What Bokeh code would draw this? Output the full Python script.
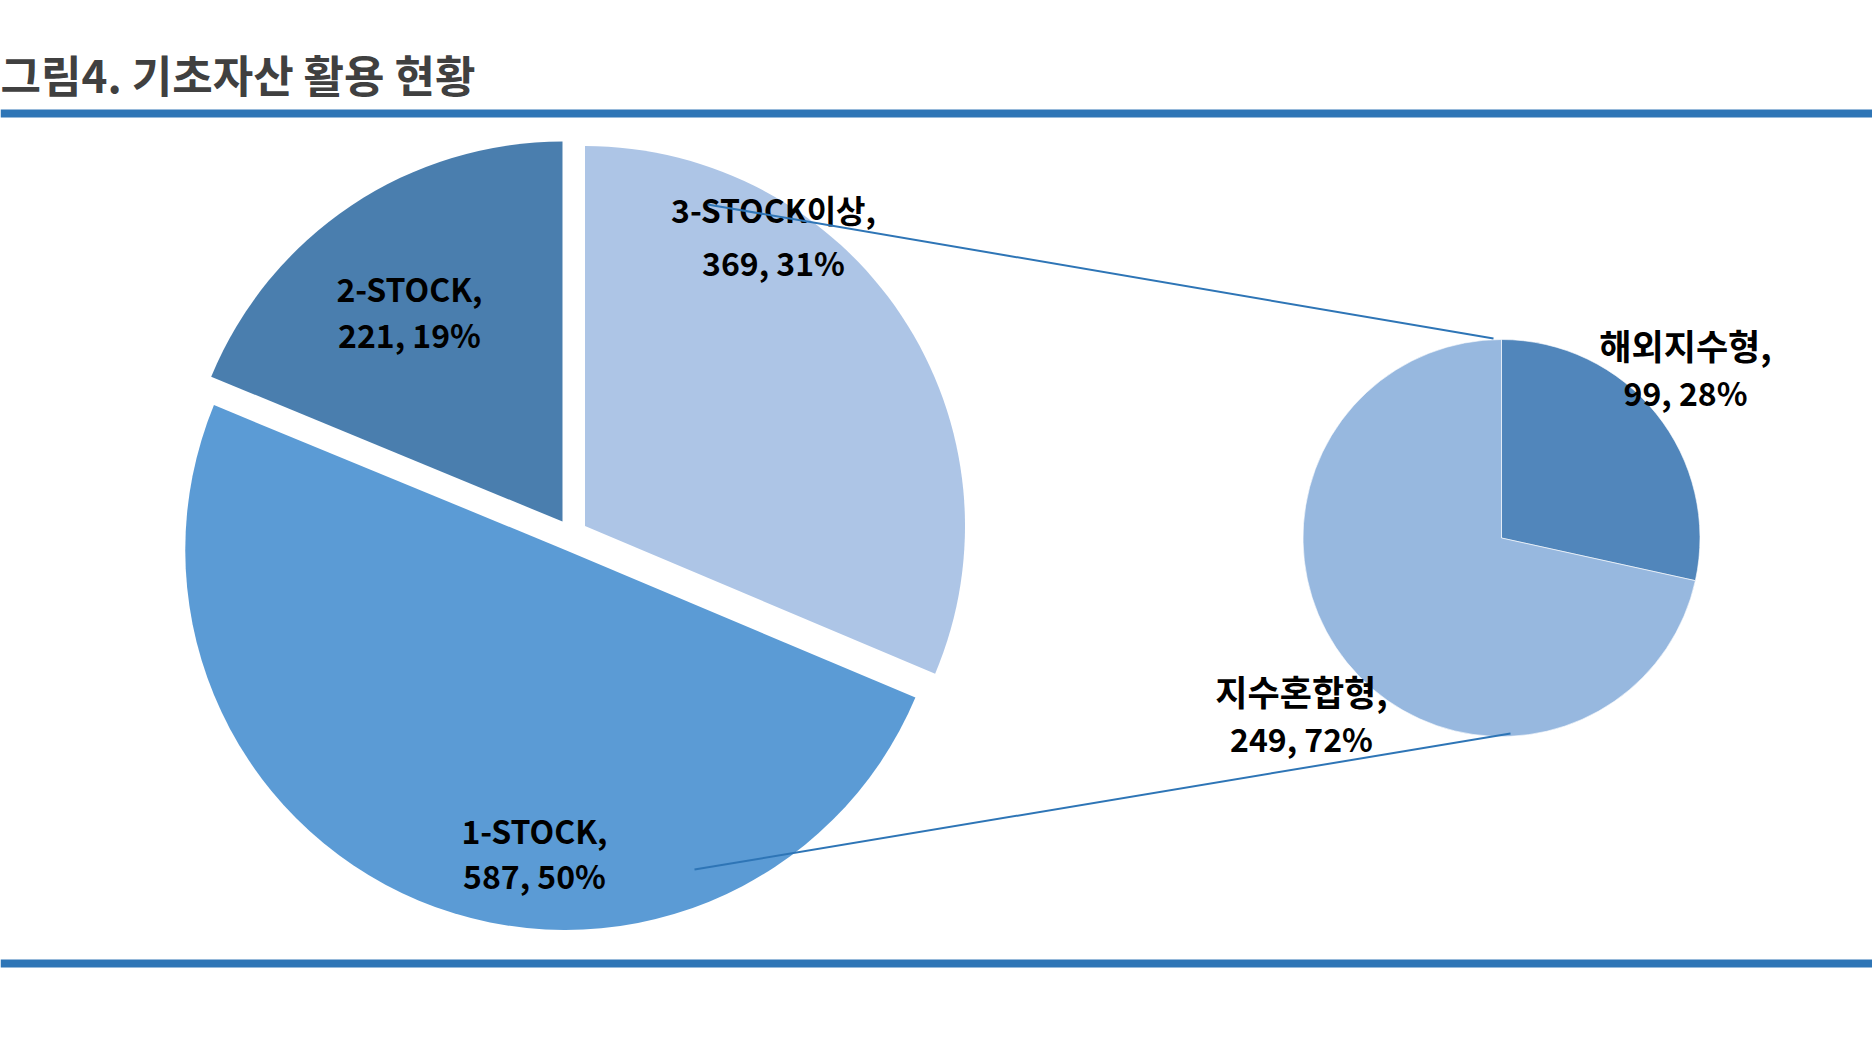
import math
from bokeh.plotting import figure
from bokeh.models import Range1d
from bokeh.core.properties import value
from bokeh.embed import file_html
from bokeh.resources import INLINE

# ---------------- data ----------------
title_text = "그림4. 기초자산 활용 현황"
main_categories = ["1-STOCK", "2-STOCK", "3-STOCK이상"]
main_values = [587, 221, 369]
sub_categories = ["해외지수형", "지수혼합형"]
sub_values = [99, 249]

# ---------------- layout / style ----------------
W, H = 1872, 1058
FONT = "Noto Sans CJK KR"
LINE_BLUE = "#2E75B6"
BASE_SHIFT = 0.45   # em; corrects the renderer's baseline placement

def sy(y):
    return H - y

main_order = ["3-STOCK이상", "1-STOCK", "2-STOCK"]   # clockwise from 12 o'clock
main_colors = {"1-STOCK": "#5B9BD5", "2-STOCK": "#4A7EAE", "3-STOCK이상": "#ADC5E6"}
main_center = (571, 534.5)
main_radius = 380
main_explode = 16.2
main_label_pos = {"3-STOCK이상": (773, 223, 276),
                  "2-STOCK": (409, 302, 348),
                  "1-STOCK": (534, 844, 889)}

sub_order = ["해외지수형", "지수혼합형"]
sub_colors = {"해외지수형": "#5186BB", "지수혼합형": "#97B8DF"}
sub_center = (1501, 537.5)
sub_radius = 198.5
sub_label_pos = {"해외지수형": (1685, 360, 406),
                 "지수혼합형": (1301, 706, 752)}

connectors = [((707, 204), (1493, 338)), ((694, 869), (1510, 733))]

p = figure(width=W, height=H, x_range=Range1d(0, W), y_range=Range1d(0, H),
           output_backend="svg", toolbar_location=None, min_border=0,
           x_axis_type=None, y_axis_type=None, outline_line_color=None,
           background_fill_color="white", border_fill_color="white")
p.grid.visible = False

# header / footer rules
for yc in (113, 963):
    p.quad(left=[0], right=[W], bottom=[sy(yc + 4)], top=[sy(yc - 4)],
           fill_color=LINE_BLUE, line_color=None)

TITLE_SIZE = 44
p.text(x=[0], y=[sy(93 - BASE_SHIFT * TITLE_SIZE)], text=[title_text], text_font=value(FONT),
       text_font_style="bold", text_font_size=f"{TITLE_SIZE}px", text_color="#404040",
       text_align="left", text_baseline="alphabetic")

def is_hangul_only(s):
    return not any(c.isascii() and c.isalnum() for c in s)

def draw_pie(cats, vals, order, colors, center, radius, explode, label_pos, border=None):
    total = sum(vals)
    lookup = dict(zip(cats, vals))
    cum = 0.0
    for cat in order:
        v = lookup[cat]
        frac = v / total
        a0 = 90 - cum * 360
        a1 = 90 - (cum + frac) * 360
        mid = math.radians((a0 + a1) / 2)
        x = center[0] + explode * math.cos(mid)
        y = sy(center[1]) + explode * math.sin(mid)
        kw = dict(line_color=None)
        if border:
            kw = dict(line_color=border, line_width=1, line_alpha=0.6)
        p.wedge(x=[x], y=[y], radius=radius, start_angle=a0, end_angle=a1,
                start_angle_units="deg", end_angle_units="deg",
                direction="clock", fill_color=colors[cat], **kw)
        cum += frac
    texts = []
    for cat in order:
        v = lookup[cat]
        pct = round(v / total * 100)
        lx, b1, b2 = label_pos[cat]
        texts.append((lx, b1, f"{cat},"))
        texts.append((lx, b2, f"{v}, {pct}%"))
    return texts

labels = []
labels += draw_pie(main_categories, main_values, main_order, main_colors,
                   main_center, main_radius, main_explode, main_label_pos)
labels += draw_pie(sub_categories, sub_values, sub_order, sub_colors,
                   sub_center, sub_radius, 0, sub_label_pos, border="white")

for lx, base, txt in labels:
    size = 35 if is_hangul_only(txt) else 32
    p.text(x=[lx], y=[sy(base - BASE_SHIFT * size)], text=[txt], text_font=value(FONT),
           text_font_style="bold", text_font_size=f"{size}px", text_color="black",
           text_align="center", text_baseline="alphabetic")

for (x0, y0), (x1, y1) in connectors:
    p.line(x=[x0, x1], y=[sy(y0), sy(y1)], line_color=LINE_BLUE, line_width=2)

open("out.html", "w").write(file_html(p, INLINE))
